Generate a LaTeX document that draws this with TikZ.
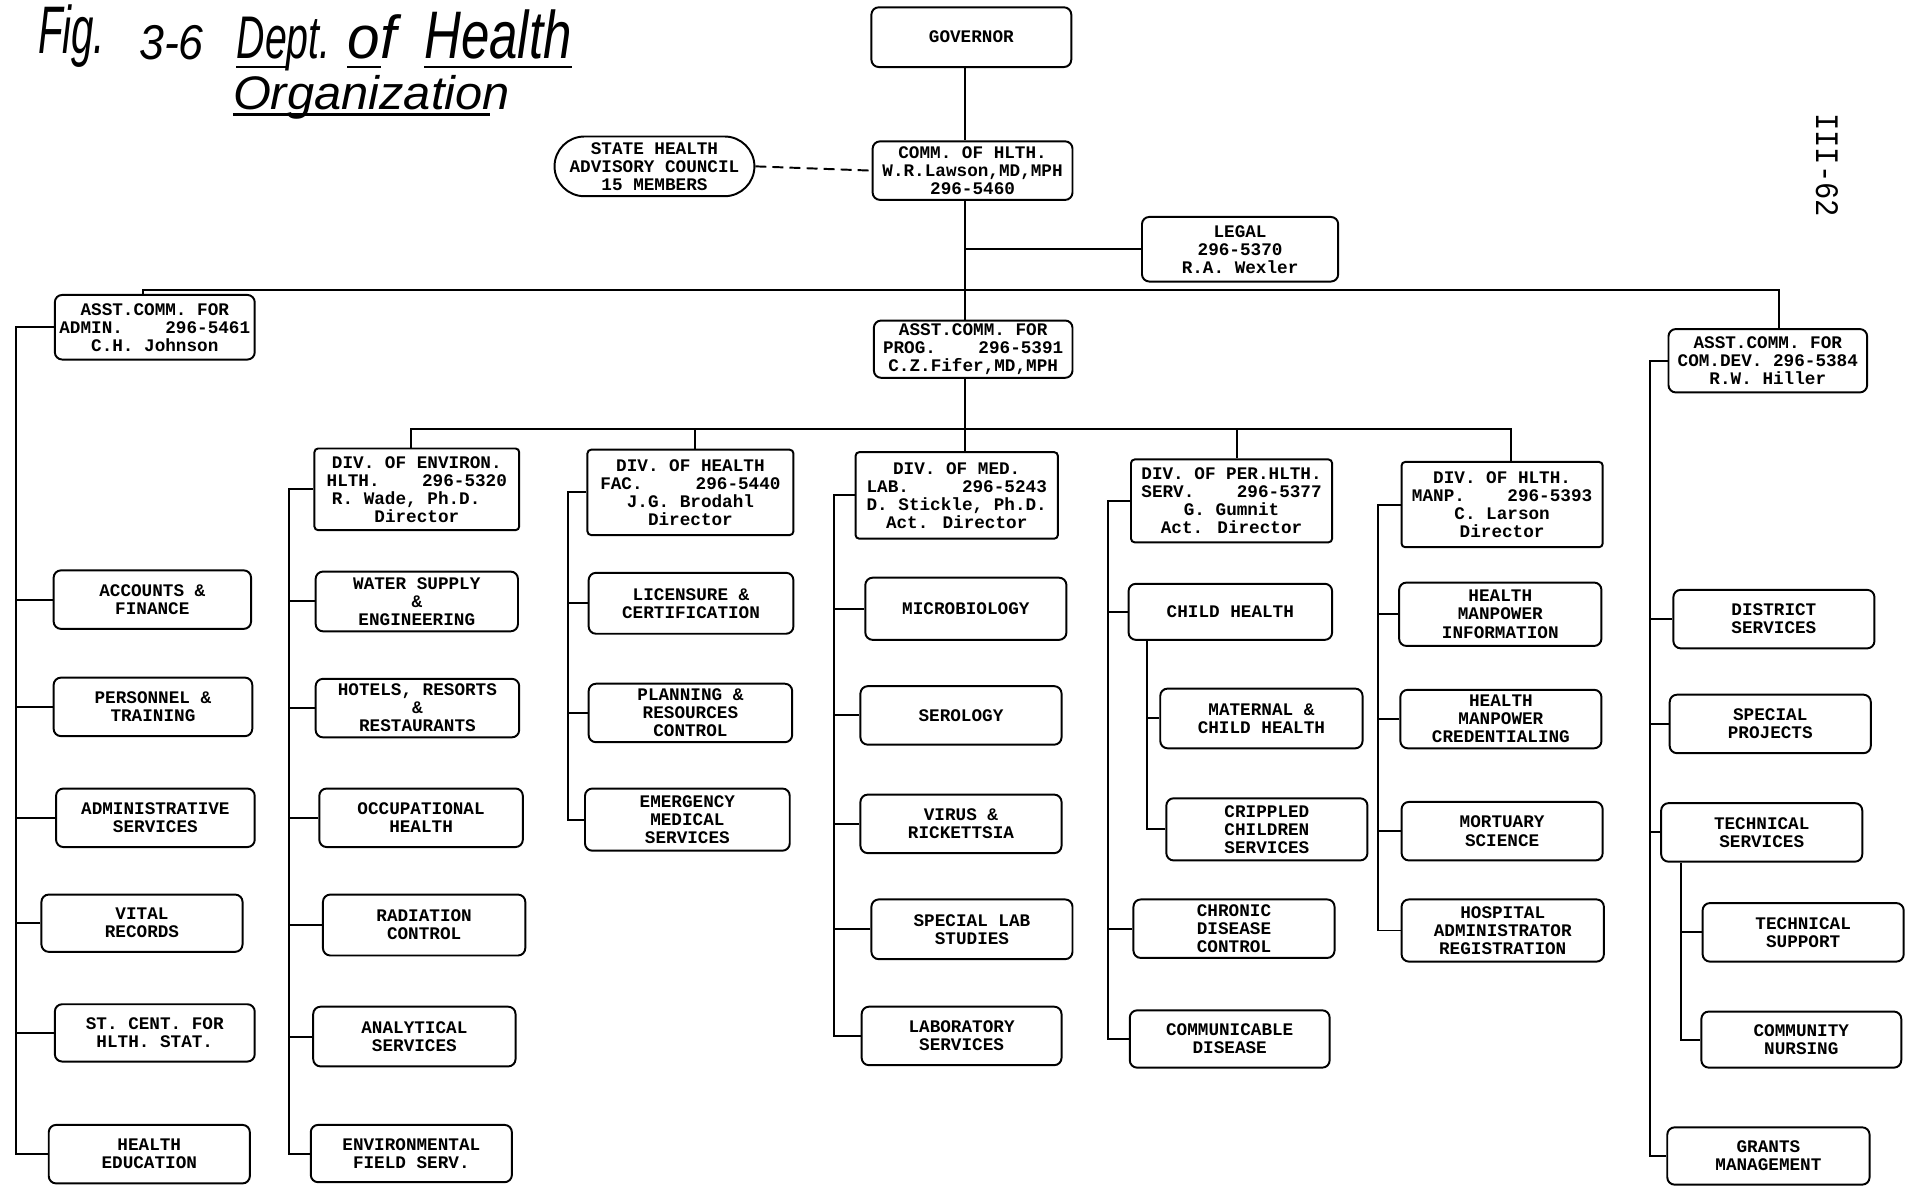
\documentclass[tikz,border=0pt]{standalone}
\usepackage{fontspec}
\usepackage{graphicx}
\usetikzlibrary{shapes.misc}
\newfontfamily\tw{Liberation Mono}
\newfontfamily\hand{Liberation Sans}
\newcommand\obx[7][ob]{\node[#1,minimum width={#5pt-#3pt},minimum height={#6pt-#4pt}] (#2) at ({(#3+#5)/2},{(#4+#6)/2}) {#7};}
\tikzset{
  ob/.style={draw, line width=1.6pt, rounded corners=6pt, align=center, inner sep=0pt,
    font={\tw\bfseries\fontsize{14.5pt}{14.8pt}\selectfont}},
  dv/.style={ob, rounded corners=3pt},
  stad/.style={draw, line width=1.6pt, shape=rounded rectangle, align=center, inner sep=0pt,
    font={\tw\bfseries\fontsize{14.5pt}{14.8pt}\selectfont}},
  ln/.style={line width=1.6pt},
  ttl/.style={anchor=base west, inner sep=0pt},
  uline/.style={line width=2.2pt}
}
\begin{document}
\begin{tikzpicture}[x=1pt,y=-1pt]
\fill[white] (0,0) rectangle (1568,973);
\useasboundingbox (0,0) rectangle (1568,973);

% title
\node[ttl] (t1) at (31,44) {\resizebox{55pt}{40pt}{\hand\itshape Fig.}};
\node[ttl] (t2) at (114,49) {\resizebox{53pt}{28pt}{\hand\itshape 3-6}};
\node[ttl] (t3) at (194,48) {\resizebox{77pt}{34pt}{\hand\itshape Dept.}};
\node[ttl] (t4) at (285,48) {\resizebox{40pt}{36pt}{\hand\itshape of}};
\node[ttl] (t5) at (348,48) {\resizebox{121pt}{40pt}{\hand\itshape Health}};
\node[ttl] (t6) at (191,90) {\resizebox{227pt}{28pt}{\hand\itshape Organization}};
\draw[uline] (194,55) -- (236,55);
\draw[uline] (285,55) -- (313,55);
\draw[uline] (348,55) -- (469,55);
\draw[uline] (191,94) -- (402,94);
\node[rotate=-90, inner sep=0pt] (pg) at (1499,135.5) {\resizebox{85pt}{18pt}{\tw III-62}};

% top level
\obx{gov}{715}{6}{879}{55}{GOVERNOR}
\obx{comm}{716}{116}{880}{164}{COMM. OF HLTH.\\W.R.Lawson,MD,MPH\\296-5460}
\obx[stad]{council}{455}{112}{619}{161}{STATE HEALTH\\ADVISORY COUNCIL\\15 MEMBERS}
\obx{legal}{937}{178}{1098}{231}{LEGAL\\296-5370\\R.A. Wexler}
\obx{adm}{45}{242}{209}{295}{ASST.COMM. FOR\\ADMIN.~~~~296-5461\\C.H. Johnson}
\obx{prog}{717}{263}{880}{310}{ASST.COMM. FOR\\PROG.~~~~296-5391\\C.Z.Fifer,MD,MPH}
\obx{cd}{1369}{270}{1532}{322}{ASST.COMM. FOR\\COM.DEV. 296-5384\\R.W. Hiller}

% divisions
\obx[dv]{env}{258}{368}{426}{435}{DIV. OF ENVIRON.\\HLTH.~~~~296-5320\\R. Wade, Ph.D.~~~\\Director}
\obx[dv]{hfac}{482}{369}{651}{439}{DIV. OF HEALTH\\FAC.~~~~~296-5440\\J.G. Brodahl\\Director}
\obx[dv]{mlab}{702}{371}{868}{442}{DIV. OF MED.\\LAB.~~~~~296-5243\\D. Stickle, Ph.D.\\Act. Director}
\obx[dv]{phs}{928}{377}{1093}{445}{DIV. OF PER.HLTH.\\SERV.~~~~296-5377\\G. Gumnit\\Act. Director}
\obx[dv]{manp}{1150}{379}{1315}{449}{DIV. OF HLTH.\\MANP.~~~~296-5393\\C. Larson\\Director}

% admin units
\obx{acc}{44}{468}{206}{516}{ACCOUNTS \&\\FINANCE}
\obx{per}{44}{556}{207}{604}{PERSONNEL \&\\TRAINING}
\obx{ads}{46}{647}{209}{695}{ADMINISTRATIVE\\SERVICES}
\obx{vit}{34}{734}{199}{781}{VITAL\\RECORDS}
\obx{scs}{45}{824}{209}{871}{ST. CENT. FOR\\HLTH. STAT.}
\obx{hed}{40}{923}{205}{971}{HEALTH\\EDUCATION}

% environmental health units
\obx{wat}{259}{469}{425}{518}{WATER SUPPLY\\\&\\ENGINEERING}
\obx{hot}{259}{557}{426}{605}{HOTELS, RESORTS\\\&\\RESTAURANTS}
\obx{occ}{262}{647}{429}{695}{OCCUPATIONAL\\HEALTH}
\obx{rad}{265}{734}{431}{784}{RADIATION\\CONTROL}
\obx{ana}{257}{826}{423}{875}{ANALYTICAL\\SERVICES}
\obx{efs}{255}{923}{420}{970}{ENVIRONMENTAL\\FIELD SERV.}

% health facilities units
\obx{lic}{483}{470}{651}{520}{LICENSURE \&\\CERTIFICATION}
\obx{pla}{483}{561}{650}{609}{PLANNING \&\\RESOURCES\\CONTROL}
\obx{ems}{480}{647}{648}{698}{EMERGENCY\\MEDICAL\\SERVICES}

% medical lab units
\obx{mic}{710}{474}{875}{525}{MICROBIOLOGY}
\obx{ser}{706}{563}{871}{611}{SEROLOGY}
\obx{vir}{706}{652}{871}{700}{VIRUS \&\\RICKETTSIA}
\obx{slb}{715}{738}{880}{787}{SPECIAL LAB\\STUDIES}
\obx{lsv}{707}{826}{871}{874}{LABORATORY\\SERVICES}

% personal health units
\obx{chh}{926}{479}{1093}{525}{CHILD HEALTH}
\obx{mch}{952}{565}{1118}{614}{MATERNAL \&\\CHILD HEALTH}
\obx{crc}{957}{655}{1122}{706}{CRIPPLED\\CHILDREN\\SERVICES}
\obx{cdc}{930}{738}{1095}{786}{CHRONIC\\DISEASE\\CONTROL}
\obx{cmd}{927}{829}{1091}{876}{COMMUNICABLE\\DISEASE}

% manpower units
\obx{hmi}{1148}{478}{1314}{530}{HEALTH\\MANPOWER\\INFORMATION}
\obx{hmc}{1149}{566}{1314}{614}{HEALTH\\MANPOWER\\CREDENTIALING}
\obx{mor}{1150}{658}{1315}{706}{MORTUARY\\SCIENCE}
\obx{har}{1150}{738}{1316}{789}{HOSPITAL\\ADMINISTRATOR\\REGISTRATION}

% community development units
\obx{dis}{1373}{484}{1538}{532}{DISTRICT\\SERVICES}
\obx{spp}{1370}{570}{1535}{618}{SPECIAL\\PROJECTS}
\obx{tcs}{1363}{659}{1528}{707}{TECHNICAL\\SERVICES}
\obx{tsu}{1397}{741}{1562}{789}{TECHNICAL\\SUPPORT}
\obx{cnu}{1396}{830}{1560}{876}{COMMUNITY\\NURSING}
\obx{grm}{1368}{925}{1534}{972}{GRANTS\\MANAGEMENT}

% ---- connectors ----
\coordinate (sp) at (792,0);
\coordinate (tbl) at (117,238);
\coordinate (tbr) at (1460,238);
\coordinate (dbl) at (337,352);
\coordinate (dbr) at (1240,352);
\coordinate (d2) at (570,352);
\coordinate (d4) at (1015,352);

\draw[ln] (gov.south -| sp) -- (comm.north -| sp);
\draw[ln] (comm.south -| sp) -- (prog.north -| sp);
\draw[ln, dash pattern=on 9pt off 5pt] (council.east) -- (comm.west);
\draw[ln] (legal.west) -- (legal.west -| sp);
\draw[ln] (adm.north -| tbl) -- (tbl) -- (tbr) -- (cd.north -| tbr);
\draw[ln] (prog.south -| sp) -- (sp |- dbl);
\draw[ln] (env.north -| dbl) -- (dbl) -- (dbr) -- (manp.north -| dbr);
\draw[ln] (d2) -- (hfac.north -| d2);
\draw[ln] (sp |- dbl) -- (mlab.north -| sp);
\draw[ln] (d4) -- (phs.north -| d4);

% column buses
\coordinate (ab) at (13,0);
\draw[ln] (adm.west) -- (adm.west -| ab) |- (hed.west);
\foreach \n in {acc,per,ads,vit,scs} \draw[ln] (\n.west) -- (\n.west -| ab);

\coordinate (eb) at (237,0);
\draw[ln] (env.west) -- (env.west -| eb) |- (efs.west);
\foreach \n in {wat,hot,occ,rad,ana} \draw[ln] (\n.west) -- (\n.west -| eb);

\coordinate (fb) at (466,0);
\draw[ln] (hfac.west) -- (hfac.west -| fb) |- (ems.west);
\foreach \n in {lic,pla} \draw[ln] (\n.west) -- (\n.west -| fb);

\coordinate (lb) at (684,0);
\draw[ln] (mlab.west) -- (mlab.west -| lb) |- (lsv.west);
\foreach \n in {mic,ser,vir,slb} \draw[ln] (\n.west) -- (\n.west -| lb);

\coordinate (pb) at (909,0);
\draw[ln] (phs.west) -- (phs.west -| pb) |- (cmd.west);
\foreach \n in {chh,cdc} \draw[ln] (\n.west) -- (\n.west -| pb);
\coordinate (cb) at (941,0);
\draw[ln] (chh.south -| cb) |- (crc.west);
\draw[ln] (mch.west) -- (mch.west -| cb);

\coordinate (mb) at (1131,0);
\draw[ln] (manp.west) -- (manp.west -| mb) |- (har.west);
\foreach \n in {hmi,hmc,mor} \draw[ln] (\n.west) -- (\n.west -| mb);

\coordinate (kb) at (1354,0);
\draw[ln] (cd.west) -- (cd.west -| kb) |- (grm.west);
\foreach \n in {dis,spp,tcs} \draw[ln] (\n.west) -- (\n.west -| kb);
\coordinate (xb) at (1379,0);
\draw[ln] (tcs.south -| xb) |- (cnu.west);
\draw[ln] (tsu.west) -- (tsu.west -| xb);
\end{tikzpicture}
\end{document}
